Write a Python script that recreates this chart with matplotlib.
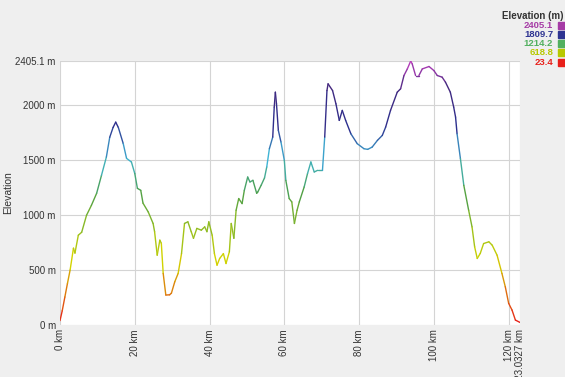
import matplotlib
matplotlib.use("Agg")
import numpy as np
import matplotlib.pyplot as plt
from matplotlib.collections import LineCollection
from matplotlib.colors import LinearSegmentedColormap, Normalize

# distance (km) and elevation (m)
dist_km = [0.0, 0.6, 1.3, 2.0, 2.7, 3.6, 4.0, 4.9, 5.8, 7.1, 8.4, 9.8, 11.1, 12.4, 13.3,
           14.2, 14.9, 15.6, 16.9, 17.8, 19.1, 20.0, 20.7, 21.6, 22.2, 23.6, 24.9, 25.3,
           26.0, 26.7, 27.1, 27.6, 28.3, 29.3, 29.8, 30.7, 31.6, 32.5, 33.3, 34.2, 35.1,
           35.7, 36.6, 37.8, 38.7, 39.3, 39.8, 40.7, 41.3, 42.0, 42.7, 43.7, 44.4, 45.3,
           45.8, 46.5, 47.1, 47.8, 48.7, 49.3, 50.2, 50.8, 51.6, 52.6, 52.9, 53.8, 54.7,
           55.3, 56.0, 56.9, 57.3, 57.6, 57.9, 58.4, 59.1, 60.0, 60.4, 61.3, 62.0, 62.7,
           63.4, 64.0, 65.3, 66.2, 67.1, 68.0, 68.9, 70.2, 70.8, 71.4, 71.7, 72.9, 73.8,
           74.7, 75.5, 76.4, 77.8, 79.5, 81.3, 82.3, 83.5, 84.9, 86.2, 87.1, 88.4, 90.2,
           91.1, 92.0, 92.9, 93.8, 94.2, 95.1, 96.0, 96.9, 98.7, 100.0, 100.9, 102.2,
           103.1, 104.4, 105.3, 105.8, 106.2, 107.1, 108.0, 109.3, 110.2, 110.9, 111.6,
           112.4, 113.3, 114.7, 115.6, 116.9, 118.2, 119.1, 120.0, 120.9, 121.8, 123.0327]
elev_m = [40, 130, 255, 380, 500, 700, 655, 818, 845, 1000, 1090, 1200, 1364, 1530, 1710,
          1800, 1848, 1800, 1654, 1518, 1485, 1380, 1245, 1227, 1110, 1030, 925, 850,
          636, 773, 745, 470, 273, 275, 290, 394, 470, 650, 925, 940, 850,
          790, 880, 864, 894, 850, 940, 818, 650, 545, 606, 650, 560, 667,
          925, 790, 1045, 1152, 1106, 1227, 1348, 1303, 1318, 1200, 1212, 1273, 1340,
          1440, 1606, 1712, 1985, 2121, 2015, 1773, 1667, 1500, 1318, 1152, 1121, 925,
          1045, 1121, 1257, 1379, 1485, 1394, 1409, 1409, 1712, 2136, 2197, 2136, 2015,
          1864, 1955, 1864, 1742, 1652, 1606, 1600, 1621, 1682, 1727, 1803, 1955, 2121,
          2152, 2273, 2333, 2405.1, 2379, 2273, 2273, 2333, 2355, 2318, 2273, 2258,
          2212, 2121, 1985, 1894, 1742, 1515, 1273, 1045, 894, 712, 606,
          652, 742, 758, 727, 636, 470, 348, 197, 136, 45, 23.4]

legend_values = [2405.1, 1809.7, 1214.2, 618.8, 23.4]
legend_colors = ['#a63ca6', '#2e3492', '#52b060', '#b8c800', '#e8201a']

x_ticks = [0, 20, 40, 60, 80, 100, 120, 123.0327]
x_labels = ['0 km', '20 km', '40 km', '60 km', '80 km', '100 km', '120 km', '123.0327 km']
y_ticks = [0, 500, 1000, 1500, 2000, 2405.1]
y_labels = ['0 m', '500 m', '1000 m', '1500 m', '2000 m', '2405.1 m']

plt.rcParams['font.family'] = ['Liberation Sans', 'DejaVu Sans']

cmap = LinearSegmentedColormap.from_list('elev', [
    (0.0, '#e8201a'), (0.24, '#d2d400'), (0.38, '#86b828'), (0.5, '#4c9e48'),
    (0.63, '#3fb6d6'), (0.75, '#2c2f8e'), (0.9, '#43287e'), (1.0, '#c040c0')])
norm = Normalize(min(elev_m), max(elev_m))

fig = plt.figure(figsize=(5.65, 3.77), dpi=100, facecolor='#efefef')
ax = fig.add_axes([60 / 565, 52 / 377, 460 / 565, 264 / 377])
ax.set_facecolor('white')

x = np.array(dist_km)
y = np.array(elev_m)
pts = np.column_stack([x, y]).reshape(-1, 1, 2)
segs = np.concatenate([pts[:-1], pts[1:]], axis=1)
lc = LineCollection(segs, colors=cmap(norm((y[:-1] + y[1:]) / 2)), linewidth=1.0,
                    capstyle='round', joinstyle='round')
ax.add_collection(lc)

ax.set_xlim(0, 123.0327)
ax.set_ylim(0, 2405.1)
ax.set_xticks(x_ticks)
ax.set_xticklabels(x_labels, rotation=90, fontsize=7, color='#333333')
ax.set_yticks(y_ticks)
ax.set_yticklabels(y_labels, fontsize=7, color='#333333')
ax.tick_params(length=0, pad=3)
ax.grid(True, color='#d4d4d4', linewidth=0.8)
ax.set_axisbelow(True)
for s in ax.spines.values():
    s.set_visible(False)
ax.set_ylabel('Elevation', fontsize=7.5, color='#333333', labelpad=2)

fig.text(563 / 565, 1 - 16 / 377, 'Elevation (m)', ha='right', va='center',
         fontsize=7, fontweight='bold', color='#333333')
for i, (v, c) in enumerate(zip(legend_values, legend_colors)):
    yy = 1 - (25 + i * 9.3) / 377
    fig.text(553 / 565, yy, '%.1f' % v, ha='right', va='center', fontsize=6.8,
             fontweight='bold', color=c)
    fig.patches.append(plt.Rectangle((558 / 565, yy - 3.5 / 377), 7 / 565, 7 / 377,
                                     transform=fig.transFigure, color=c, figure=fig))

fig.savefig('out.png', dpi=100, facecolor=fig.get_facecolor())
